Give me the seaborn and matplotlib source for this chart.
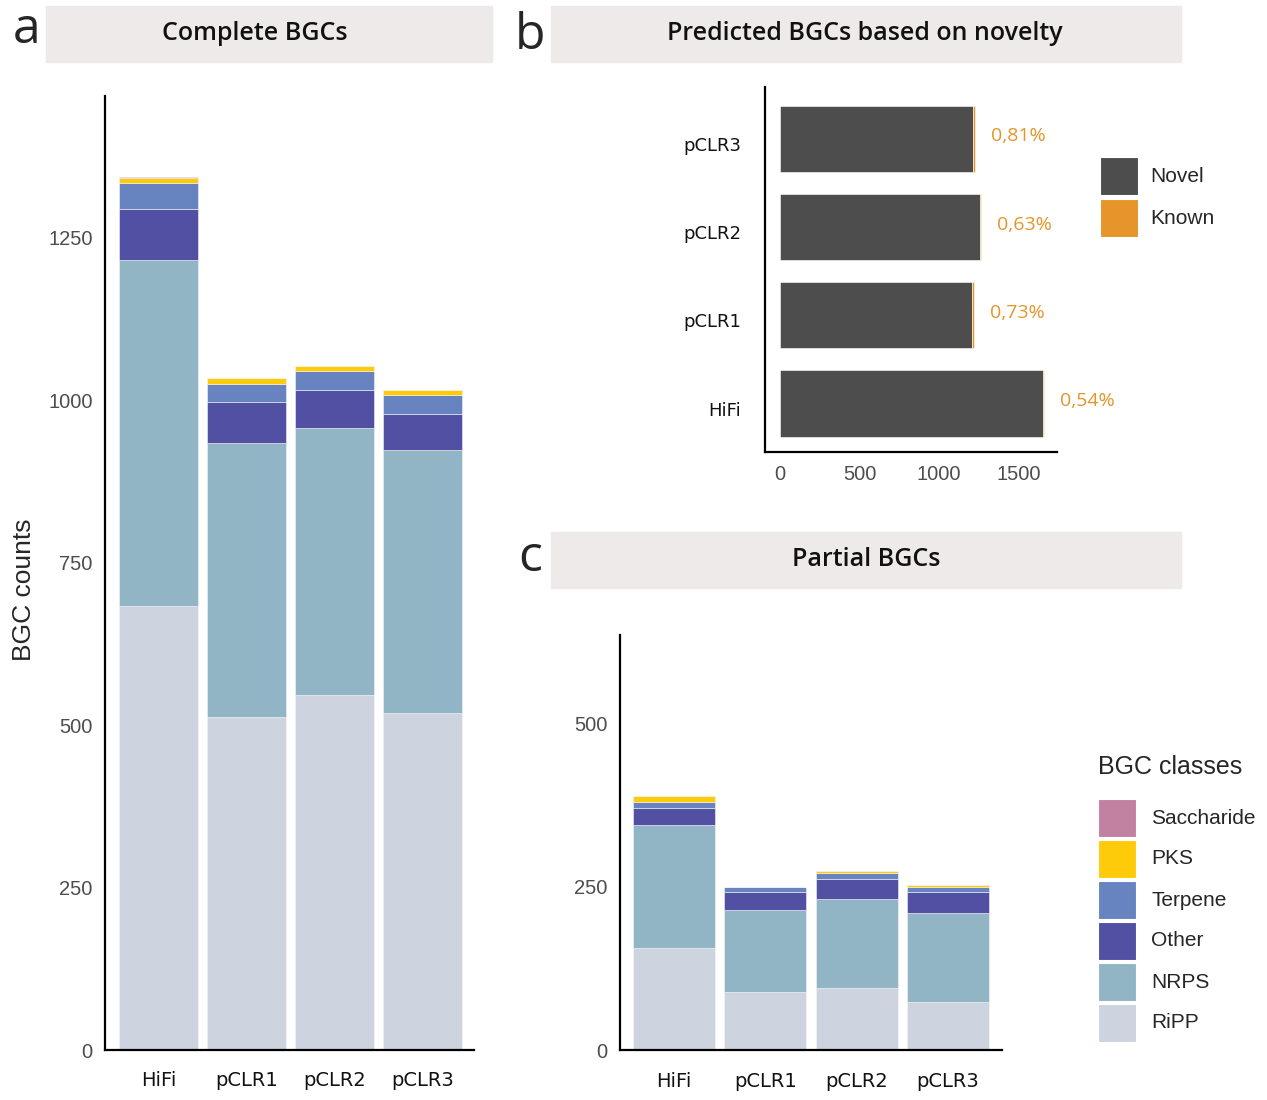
import seaborn as sns
import matplotlib.pyplot as plt
import pandas as pd
from matplotlib.patches import Rectangle
from matplotlib.transforms import ScaledTranslation

platforms = ["HiFi", "pCLR1", "pCLR2", "pCLR3"]
classes = ["Saccharide", "PKS", "Terpene", "Other", "NRPS", "RiPP"]
class_colors = ["#C281A0", "#FDCB0A", "#6884C0", "#5150A2", "#91B5C4", "#CDD4E0"]

# complete BGCs, one value per platform
complete_saccharide = [1, 0, 0, 0]
complete_pks = [8, 9, 8, 8]
complete_terpene = [40, 28, 29, 29]
complete_other = [79, 63, 59, 56]
complete_nrps = [532, 421, 410, 404]
complete_ripp = [684, 513, 547, 519]

# partial BGCs
partial_saccharide = [1, 0, 0, 0]
partial_pks = [9, 0, 3, 3]
partial_terpene = [9, 8, 8, 8]
partial_other = [26, 27, 31, 32]
partial_nrps = [188, 126, 137, 136]
partial_ripp = [157, 89, 95, 74]

# novelty
novel = [1653, 1210, 1259, 1217]
known = [9, 9, 8, 10]
known_pct = ["0,54%", "0,73%", "0,63%", "0,81%"]
status = ["Novel", "Known"]
status_colors = ["#4D4D4D", "#E5952A"]

W, H = 1267, 1100
STRIP = "#EDEAE9"


def box(l, t, r, b):
    return [l / W, (H - b) / H, (r - l) / W, (b - t) / H]


def long_df(cols):
    rows = []
    for cls, vals in zip(classes, cols):
        for p, v in zip(platforms, vals):
            rows.append({"platform": p, "bgc_class": cls, "count": v})
    return pd.DataFrame(rows)


df_a = long_df([complete_saccharide, complete_pks, complete_terpene,
                complete_other, complete_nrps, complete_ripp])
df_c = long_df([partial_saccharide, partial_pks, partial_terpene,
                partial_other, partial_nrps, partial_ripp])
df_b = pd.DataFrame(
    [{"platform": p, "status": "Novel", "count": n} for p, n in zip(platforms, novel)]
    + [{"platform": p, "status": "Known", "count": k} for p, k in zip(platforms, known)]
)

sns.set_style("white")
plt.rcParams["font.family"] = ["Liberation Sans", "DejaVu Sans"]

fig = plt.figure(figsize=(W / 100, H / 100), dpi=100)
ax_a = fig.add_axes(box(105, 96, 474, 1050))
ax_b = fig.add_axes(box(765, 87, 1057, 452))
ax_c = fig.add_axes(box(620, 635, 1002, 1050))

pal = dict(zip(classes, class_colors))
for ax, df in [(ax_a, df_a), (ax_c, df_c)]:
    sns.histplot(data=df, x="platform", weights="count", hue="bgc_class",
                 hue_order=classes, palette=pal, multiple="stack",
                 discrete=True, shrink=0.9, alpha=1, edgecolor="#F4F4F4",
                 linewidth=0.4, legend=False, ax=ax)

sns.histplot(data=df_b, y="platform", weights="count", hue="status",
             hue_order=["Known", "Novel"], palette=dict(zip(status, status_colors)),
             multiple="stack", discrete=True, shrink=0.75, alpha=1,
             edgecolor="white", linewidth=0.4, legend=False, ax=ax_b)

for i, (n, k, lab) in enumerate(zip(novel, known, known_pct)):
    ax_b.text(n + k + 100, i + 0.03, lab, color="#E5952A", fontsize=14,
              family="Open Sans", ha="left", va="center")

# axis limits
ax_a.set_xlim(-0.608, 3.585)
ax_a.set_ylim(0, 1468.5)
ax_c.set_xlim(-0.59, 3.59)
ax_c.set_ylim(0, 636.5)
ax_b.set_xlim(-94.4, 1743)
ax_b.set_ylim(-0.55, 3.59)

ax_a.set_yticks([0, 250, 500, 750, 1000, 1250])
ax_c.set_yticks([0, 250, 500])
ax_b.set_xticks([0, 500, 1000, 1500])

for ax in [ax_a, ax_c]:
    ax.set_xticks(range(len(platforms)), platforms)
ax_b.set_yticks(range(len(platforms)), platforms)

for ax in [ax_a, ax_b, ax_c]:
    sns.despine(ax=ax)
    for s in ["left", "bottom"]:
        ax.spines[s].set_color("black")
        ax.spines[s].set_linewidth(1.6)
    ax.set_xlabel("")
    ax.set_ylabel("")

num_kw = dict(length=5, width=1.2, color="#333333", labelcolor="#4D4D4D",
              labelsize=14.5, pad=4)
cat_kw = dict(length=0, labelcolor="#111111")
ax_a.tick_params(axis="y", **num_kw)
ax_c.tick_params(axis="y", **num_kw)
ax_b.tick_params(axis="x", **num_kw)
ax_a.tick_params(axis="x", pad=15, labelsize=14, **cat_kw)
ax_c.tick_params(axis="x", pad=16, labelsize=14, **cat_kw)
ax_b.tick_params(axis="y", pad=17, labelsize=13, **cat_kw)

for ax in [ax_a, ax_c]:
    for t in ax.get_xticklabels():
        t.set_family("DejaVu Sans")

# b category labels sit a little below the bar centres
shift = ScaledTranslation(0, -5 / 100, fig.dpi_scale_trans)
for t in ax_b.get_yticklabels():
    t.set_family("DejaVu Sans")
    t.set_transform(t.get_transform() + shift)

ax_a.set_ylabel("BGC counts", fontsize=19)
ax_a.yaxis.set_label_coords(-0.187, 0.482)

# strips and panel letters
for l, t, r, b, cx, title in [(46, 6, 492, 62, 255, "Complete BGCs"),
                              (551, 6, 1181, 62, 865, "Predicted BGCs based on novelty"),
                              (551, 532, 1181, 588, 866, "Partial BGCs")]:
    x, y, w, h = box(l, t, r, b)
    fig.add_artist(Rectangle((x, y), w, h, transform=fig.transFigure,
                             color=STRIP, zorder=0))
    fig.text(cx / W, y + h / 2, title, ha="center", va="center",
             fontsize=18, family="Open Sans", weight="semibold", color="#111111")

for x, y, letter in [(27, 30, "a"), (530, 36, "b"), (530, 558, "c")]:
    fig.text(x / W, 1 - y / H, letter, ha="center", va="center",
             fontsize=36, family="Open Sans")

# legend b
for i, (lab, col) in enumerate(zip(status, status_colors)):
    top = 157 + i * 42
    x, y, w, h = box(1100, top, 1138, top + 38)
    fig.add_artist(Rectangle((x, y), w, h, transform=fig.transFigure,
                             facecolor=col, edgecolor="white", lw=0.8))
    fig.text(1150 / W, 1 - (top + 19) / H, lab, ha="left", va="center",
             fontsize=15)

# legend c
fig.text(1098 / W, 1 - 767 / H, "BGC classes", ha="left", va="center",
         fontsize=18)
for i, (lab, col) in enumerate(zip(classes, class_colors)):
    top = 799 + i * 41
    x, y, w, h = box(1098, top, 1136, top + 38)
    fig.add_artist(Rectangle((x, y), w, h, transform=fig.transFigure,
                             facecolor=col, edgecolor="white", lw=0.8))
    fig.text(1151 / W, 1 - (top + 19) / H, lab, ha="left", va="center",
             fontsize=15)

fig.savefig("out.png", dpi=100)
